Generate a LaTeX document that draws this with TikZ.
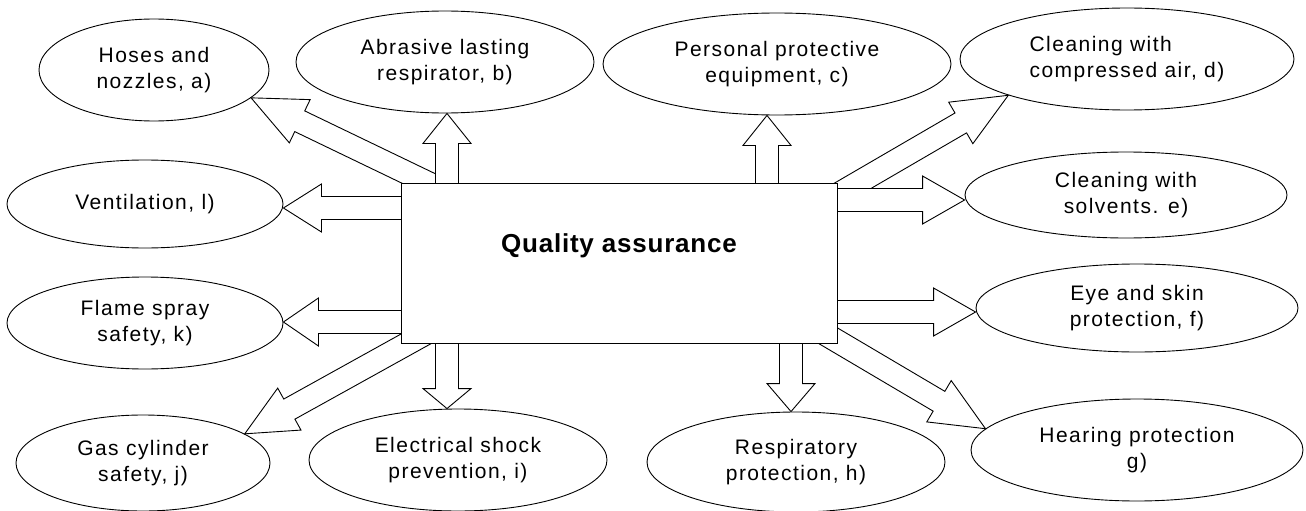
\documentclass[tikz,border=0pt]{standalone}
\usepackage{fontspec}
\setmainfont{Liberation Sans}[LetterSpace=7]
\newfontfamily\qafont{Liberation Sans}[LetterSpace=3]
\usetikzlibrary{shapes.geometric,calc}
\newcommand{\lab}{\fontsize{21}{25.5}\selectfont}
\newcommand{\qalab}{\qafont\bfseries\fontsize{26}{30}\selectfont}
\tikzset{
  ell/.style={ellipse, draw, line width=0.9pt, inner sep=0pt, align=center, font=\lab},
  barrow/.style={draw, fill=white, line width=0.9pt, line join=miter},
  qbox/.style={draw, fill=white, line width=0.9pt, inner sep=0pt, minimum width=436pt, minimum height=160pt}
}
% block arrow: #1 start, #2 tip, #3 head length
\newcommand{\blockarr}[3]{%
  \coordinate (H) at ($(#2)!#3!(#1)$);
  \filldraw[barrow] ($(#1)!11.5pt!90:(#2)$) -- ($(H)!11.5pt!-90:(#1)$) -- ($(H)!24pt!-90:(#1)$)
     -- (#2) -- ($(H)!24pt!90:(#1)$) -- ($(H)!11.5pt!90:(#1)$) -- ($(#1)!11.5pt!-90:(#2)$);
}
\begin{document}
\begin{tikzpicture}[x=1pt,y=-1pt]
\useasboundingbox (0,0) rectangle (1306,511);
% ellipses
\node[ell, minimum width=230pt, minimum height=102pt] (a) at (154,70) {Hoses and\\nozzles, a)};
\node[ell, minimum width=298pt, minimum height=102pt] (b) at (445,62) {Abrasive lasting\\respirator, b)};
\node[ell, minimum width=348pt, minimum height=102pt] (c) at (777,64) {Personal protective\\equipment, c)};
\node[ell, minimum width=334pt, minimum height=102pt, align=left] (d) at (1127,59) {Cleaning with\\compressed air, d)};
\node[ell, minimum width=322pt, minimum height=86pt] (e) at (1126,195) {Cleaning with\\solvents. e)};
\node[ell, minimum width=322pt, minimum height=88pt] (f) at (1137,308) {Eye and skin\\protection, f)};
\node[ell, minimum width=332pt, minimum height=102pt] (g) at (1137,450) {Hearing protection\\g)};
\node[ell, minimum width=298pt, minimum height=100pt] (h) at (796,462) {Respiratory\\protection, h)};
\node[ell, minimum width=298pt, minimum height=102pt] (i) at (458,460) {Electrical shock\\prevention, i)};
\node[ell, minimum width=254pt, minimum height=96pt] (j) at (143,463) {Gas cylinder\\safety, j)};
\node[ell, minimum width=276pt, minimum height=92pt] (k) at (145,323) {Flame spray\\safety, k)};
\node[ell, minimum width=276pt, minimum height=88pt] (l) at (145,204) {Ventilation, l)};
% arrow anchor points
\coordinate (sa) at (480,208);  \coordinate (ta) at (a.-16.5);
\coordinate (sd) at (787,224);  \coordinate (td) at (d.-163);
\coordinate (sg) at (771,302);  \coordinate (tg) at (g.172.5);
\coordinate (sj) at (459,315);  \coordinate (tj) at (j.16);
\coordinate (sb) at (447,200);  \coordinate (tb) at (sb |- b.south);
\coordinate (sc) at (767,200);  \coordinate (tc) at (sc |- c.south);
\coordinate (si) at (447,330);  \coordinate (ti) at (si |- i.north);
\coordinate (sh) at (791,330);  \coordinate (th) at (sh |- h.north);
\coordinate (sl) at (420,208);  \coordinate (tl) at (l.east |- sl);
\coordinate (sk) at (420,322);  \coordinate (tk) at (k.east |- sk);
\coordinate (se) at (820,200);  \coordinate (te) at (e.west |- se);
\coordinate (sf) at (820,312);  \coordinate (tf) at (f.west |- sf);
% diagonal arrows
\blockarr{sa}{ta}{54pt}
\blockarr{sd}{td}{55pt}
\blockarr{sg}{tg}{54pt}
\blockarr{sj}{tj}{51pt}
% straight arrows
\blockarr{sb}{tb}{30pt}
\blockarr{sc}{tc}{30pt}
\blockarr{si}{ti}{20pt}
\blockarr{sh}{th}{28pt}
\blockarr{sl}{tl}{38pt}
\blockarr{sk}{tk}{35pt}
\blockarr{se}{te}{42pt}
\blockarr{sf}{tf}{42pt}
% central box
\node[qbox] (qa) at (619,263) {};
\node[font=\qalab, inner sep=0pt] (qat) at (619,246) {Quality assurance};
\end{tikzpicture}
\end{document}
